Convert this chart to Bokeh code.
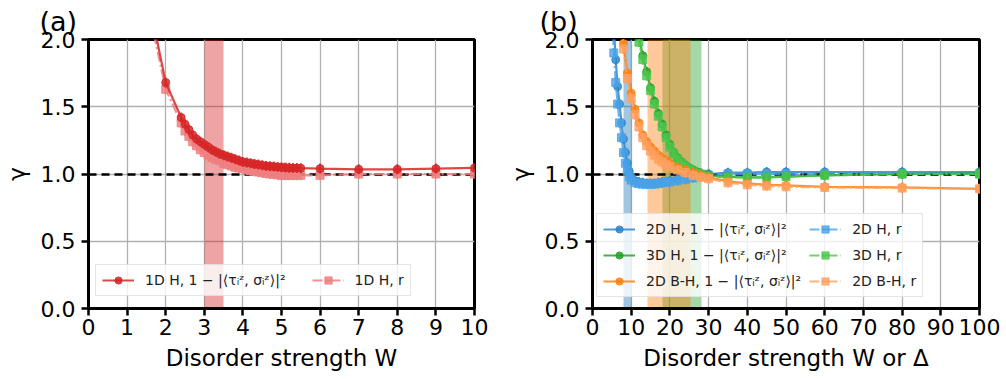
import math
from bokeh.plotting import figure
from bokeh.layouts import row
from bokeh.models import Legend, LegendItem, Range1d, FixedTicker, NumeralTickFormatter
from bokeh.embed import file_html
from bokeh.resources import INLINE

# ---------------- data: panel (a), 1D Heisenberg ----------------
W_1d = [1.5, 2.0, 2.4, 2.5, 2.6, 2.7, 2.8, 2.9, 3.0, 3.1, 3.2, 3.3, 3.4, 3.5, 3.6, 3.7,
        3.8, 3.9, 4.0, 4.1, 4.2, 4.3, 4.4, 4.5, 4.6, 4.7, 4.8, 4.9, 5.0, 5.1, 5.2, 5.3,
        5.4, 5.5, 6, 7, 8, 9, 10]
g_1d = [2.38, 1.68, 1.42, 1.37, 1.33, 1.29, 1.26, 1.24, 1.22, 1.20, 1.18, 1.165, 1.15,
        1.14, 1.13, 1.12, 1.11, 1.10, 1.09, 1.085, 1.08, 1.075, 1.07, 1.065, 1.06, 1.058,
        1.055, 1.052, 1.05, 1.048, 1.046, 1.045, 1.044, 1.043, 1.04, 1.035, 1.035, 1.04, 1.045]
r_1d = [2.30, 1.63, 1.38, 1.32, 1.28, 1.24, 1.21, 1.18, 1.16, 1.14, 1.12, 1.11, 1.10,
        1.08, 1.07, 1.06, 1.05, 1.045, 1.04, 1.03, 1.025, 1.02, 1.015, 1.01, 1.005, 1.0,
        1.0, 0.995, 0.99, 0.99, 0.99, 0.99, 0.99, 0.99, 0.99, 1.0, 1.0, 1.0, 1.0]
band_1d = [3.0, 3.5]

# ---------------- data: panel (b) ----------------
W_2d = [5, 5.5, 6, 6.5, 7, 7.5, 8, 8.5, 9, 9.5, 10, 11, 12, 13, 14, 15, 16, 17, 18, 19,
        20, 22, 24, 26, 28, 30, 35, 40, 45, 50, 60, 80, 100]
g_2d = [2.6, 2.1, 1.85, 1.65, 1.52, 1.38, 1.26, 1.16, 1.08, 1.02, 0.98, 0.95, 0.94, 0.935,
        0.93, 0.93, 0.93, 0.935, 0.94, 0.945, 0.95, 0.96, 0.97, 0.98, 0.99, 1.0, 1.01, 1.01,
        1.015, 1.015, 1.015, 1.015, 1.015]
r_2d = [2.3, 1.9, 1.68, 1.52, 1.38, 1.27, 1.16, 1.08, 1.02, 0.98, 0.955, 0.935, 0.93, 0.925,
        0.925, 0.925, 0.925, 0.93, 0.935, 0.94, 0.94, 0.95, 0.96, 0.97, 0.985, 0.99, 1.0, 1.0,
        1.0, 1.0, 1.0, 1.0, 1.0]
band_2d = [8.1, 10.0]

W_3d = [11, 12, 13, 14, 15, 16, 17, 18, 19, 20, 21, 22, 23, 24, 25, 26, 27, 28, 29, 30,
        35, 40, 45, 50, 60, 80, 100]
g_3d = [2.25, 2.02, 1.88, 1.76, 1.64, 1.54, 1.45, 1.37, 1.29, 1.22, 1.16, 1.12, 1.09, 1.065,
        1.045, 1.03, 1.015, 1.005, 0.995, 0.99, 0.98, 0.975, 0.975, 0.98, 0.99, 1.0, 1.005]
r_3d = [2.2, 1.98, 1.85, 1.73, 1.62, 1.52, 1.43, 1.35, 1.27, 1.2, 1.15, 1.11, 1.08, 1.055,
        1.035, 1.02, 1.005, 0.995, 0.985, 0.98, 0.975, 0.975, 0.975, 0.98, 0.99, 1.0, 1.0]
band_3d = [18.0, 28.1]

W_bh = [7.5, 8, 9, 10, 11, 12, 13, 14, 15, 16, 17, 18, 19, 20, 22, 24, 26, 28, 30, 35, 40,
        45, 50, 60, 80, 100]
g_bh = [2.15, 1.97, 1.75, 1.6, 1.48, 1.38, 1.29, 1.24, 1.2, 1.17, 1.14, 1.115, 1.095, 1.08,
        1.05, 1.03, 1.01, 0.99, 0.975, 0.945, 0.93, 0.92, 0.915, 0.905, 0.9, 0.89]
r_bh = [2.1, 1.93, 1.71, 1.56, 1.44, 1.35, 1.27, 1.21, 1.17, 1.14, 1.11, 1.09, 1.07, 1.055,
        1.03, 1.01, 0.99, 0.975, 0.965, 0.935, 0.92, 0.91, 0.905, 0.9, 0.895, 0.89]
band_bh = [14.3, 25.2]

ref_level = [1.0]
y_ticks = [0, 0.5, 1.0, 1.5, 2.0]
xa_ticks = [0, 1, 2, 3, 4, 5, 6, 7, 8, 9, 10]
xb_ticks = [0, 10, 20, 30, 40, 50, 60, 70, 80, 90, 100]

FONT = "DejaVu Sans"
GAMMA_LBL = "1 \u2212 |\u27e8\u03c4\u1d62\u1dbb, \u03c3\u1d62\u1dbb\u27e9|\u00b2"


def make_fig(title, xlabel, xmax, xticks, left, right, title_offset):
    p = figure(width=503, height=379, output_backend="svg", toolbar_location=None,
               x_range=Range1d(0, xmax), y_range=Range1d(0, 2),
               min_border_left=left, min_border_right=right,
               min_border_top=39, min_border_bottom=71)
    p.title.text = title
    p.title.text_font = FONT
    p.title.text_font_size = "27px"
    p.title.text_font_style = "normal"
    p.title.text_color = "black"
    p.title.align = "left"
    p.title.vertical_align = "top"
    p.title.offset = title_offset
    p.title.standoff = 2
    p.outline_line_color = "black"
    p.outline_line_width = 3
    p.outline_line_alpha = 1
    p.background_fill_color = "white"
    p.border_fill_color = "white"
    for ax in (p.xaxis[0], p.yaxis[0]):
        ax.axis_line_width = 3
        ax.axis_line_color = "black"
        ax.major_tick_line_width = 2.5
        ax.major_tick_line_color = "black"
        ax.major_tick_out = 7
        ax.major_tick_in = 0
        ax.minor_tick_line_color = None
        ax.major_label_text_font = FONT
        ax.major_label_text_font_size = "22px"
        ax.major_label_text_color = "black"
        ax.axis_label_text_font = FONT
        ax.axis_label_text_font_size = "23px"
        ax.axis_label_text_font_style = "normal"
        ax.axis_label_text_color = "black"
    p.xaxis.ticker = FixedTicker(ticks=xticks)
    p.yaxis.ticker = FixedTicker(ticks=y_ticks)
    p.yaxis.formatter = NumeralTickFormatter(format="0.0")
    p.xaxis.axis_label = xlabel
    p.yaxis.axis_label = "\u03b3"
    p.xaxis.major_label_standoff = 3
    p.yaxis.major_label_standoff = 6
    p.xaxis.axis_label_standoff = 7
    p.yaxis.axis_label_standoff = 8
    p.grid.grid_line_color = "#b0b0b0"
    p.grid.grid_line_width = 1.3
    p.xgrid.ticker = FixedTicker(ticks=xticks)
    p.ygrid.ticker = FixedTicker(ticks=y_ticks)
    return p


def series(p, xs, ys, color, marker, dashed, alpha):
    ln = p.line(xs, ys, line_color=color, line_width=2.2, line_alpha=alpha,
                line_dash=("10 3 2 3" if dashed else "solid"))
    mk = p.scatter(xs, ys, marker=marker, size=8, fill_color=color, line_color=color,
                   fill_alpha=alpha, line_alpha=alpha)
    er = p.scatter(xs, ys, marker="dash", angle=math.pi / 2, size=10, line_color=color,
                   line_width=2, line_alpha=alpha)
    return [ln, mk, er]


def style_legend(lg):
    lg.label_text_font = FONT
    lg.label_text_font_size = "14px"
    lg.label_text_color = "#222222"
    lg.background_fill_color = "white"
    lg.background_fill_alpha = 0.8
    lg.border_line_color = "#cccccc"
    lg.border_line_width = 1
    lg.glyph_width = 32
    lg.glyph_height = 18
    lg.label_standoff = 11
    lg.padding = 6
    lg.margin = 0


# ---------------- panel (a) ----------------
pa = make_fig("(a)", "Disorder strength W", 10, xa_ticks, 85, 29, -49)
pa.vstrip(x0=[band_1d[0]], x1=[band_1d[1]], fill_color="#d62728", fill_alpha=0.42,
          line_color=None)
pa.hspan(y=ref_level, line_color="black", line_width=2.5, line_dash="8 5")
ra = series(pa, W_1d, r_1d, "#ee7f80", "square", True, 0.85)
ga = series(pa, W_1d, g_1d, "#d62728", "circle", False, 0.85)
lga = Legend(items=[LegendItem(label="1D H, " + GAMMA_LBL, renderers=ga),
                    LegendItem(label="1D H, r", renderers=ra)],
             orientation="horizontal", location=(7, 12), spacing=26)
style_legend(lga)
pa.add_layout(lga)

# ---------------- panel (b) ----------------
pb = make_fig("(b)", "Disorder strength W or \u0394", 100, xb_ticks, 89, 27, -53)
pb.vstrip(x0=[band_2d[0]], x1=[band_2d[1]], fill_color="#1f77b4", fill_alpha=0.42,
          line_color=None)
pb.vstrip(x0=[band_3d[0]], x1=[band_3d[1]], fill_color="#2ca02c", fill_alpha=0.42,
          line_color=None)
pb.vstrip(x0=[band_bh[0]], x1=[band_bh[1]], fill_color="#ff7f0e", fill_alpha=0.42,
          line_color=None)
pb.hspan(y=ref_level, line_color="black", line_width=2.5, line_dash="8 5")
g2 = series(pb, W_2d, g_2d, "#2f86c8", "circle", False, 0.85)
r2 = series(pb, W_2d, r_2d, "#4aa3e8", "square", True, 0.8)
g3 = series(pb, W_3d, g_3d, "#2ca02c", "circle", False, 0.85)
r3 = series(pb, W_3d, r_3d, "#4cc64c", "square", True, 0.8)
gb = series(pb, W_bh, g_bh, "#ff7f0e", "circle", False, 0.85)
rb = series(pb, W_bh, r_bh, "#ffa060", "square", True, 0.8)
lgb = Legend(items=[LegendItem(label="2D H, " + GAMMA_LBL, renderers=g2),
                    LegendItem(label="3D H, " + GAMMA_LBL, renderers=g3),
                    LegendItem(label="2D B-H, " + GAMMA_LBL, renderers=gb),
                    LegendItem(label="2D H, r", renderers=r2),
                    LegendItem(label="3D H, r", renderers=r3),
                    LegendItem(label="2D B-H, r", renderers=rb)],
             ncols=2, location=(4, 11), spacing=8)
style_legend(lgb)
pb.add_layout(lgb)

layout = row(pa, pb)
open("out.html", "w").write(file_html(layout, INLINE))
